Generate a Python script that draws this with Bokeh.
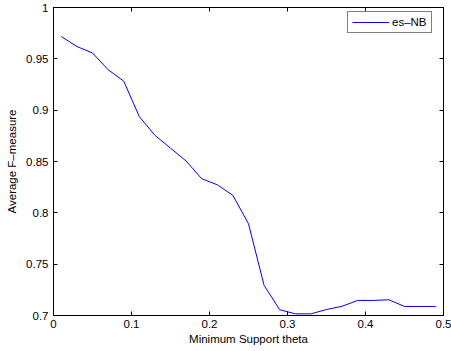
from bokeh.plotting import figure
from bokeh.models import LinearAxis, Range1d, FixedTicker, Legend, LegendItem
from bokeh.embed import file_html
from bokeh.resources import INLINE

theta = [0.01, 0.03, 0.05, 0.07, 0.09, 0.11, 0.13, 0.15, 0.17, 0.19, 0.21, 0.23, 0.25,
         0.27, 0.29, 0.31, 0.33, 0.35, 0.37, 0.39, 0.41, 0.43, 0.45, 0.47, 0.49]
fmeasure = [0.9717, 0.962, 0.9557, 0.9394, 0.9283, 0.8938, 0.8755, 0.863, 0.8505, 0.8332,
            0.8273, 0.817, 0.7893, 0.7293, 0.7056, 0.7016, 0.7016, 0.7058, 0.709, 0.7147,
            0.7147, 0.7153, 0.7088, 0.7088, 0.7088]
series_name = "es\u2013NB"
x_ticks = [0, 0.1, 0.2, 0.3, 0.4, 0.5]
x_tick_labels = ["0", "0.1", "0.2", "0.3", "0.4", "0.5"]
y_ticks = [0.7, 0.75, 0.8, 0.85, 0.9, 0.95, 1.0]
y_tick_labels = ["0.7", "0.75", "0.8", "0.85", "0.9", "0.95", "1"]
x_label = "Minimum Support theta"
y_label = "Average F\u2013measure"

FONT = "Liberation Sans"
FS = "11.5px"

p = figure(width=451, height=351, output_backend="svg", toolbar_location=None,
           x_range=Range1d(0, 0.5), y_range=Range1d(0.7, 1.0),
           x_axis_location=None, y_axis_location=None,
           min_border_left=53, min_border_right=8, min_border_top=7, min_border_bottom=36)
p.background_fill_color = "white"
p.border_fill_color = "white"
p.outline_line_color = "black"
p.outline_line_width = 1
p.xgrid.visible = False
p.ygrid.visible = False


def style_axis(ax, ticks, labels, show_labels=True):
    ax.ticker = FixedTicker(ticks=ticks)
    ax.major_label_overrides = {t: l for t, l in zip(ticks, labels)}
    ax.major_tick_in = 4
    ax.major_tick_out = 0
    ax.minor_tick_line_color = None
    ax.axis_line_color = "black"
    ax.major_tick_line_color = "black"
    ax.major_label_text_font = FONT
    ax.major_label_text_color = "black"
    ax.axis_label_text_font = FONT
    ax.axis_label_text_font_style = "normal"
    ax.axis_label_text_color = "black"
    ax.axis_label_text_font_size = FS
    if show_labels:
        ax.major_label_text_font_size = FS
    else:
        ax.major_label_text_font_size = "0px"
        ax.major_label_standoff = 0
        ax.major_label_text_alpha = 0


xb = LinearAxis(axis_label=x_label)
style_axis(xb, x_ticks, x_tick_labels)
xb.major_label_standoff = 4
xb.axis_label_standoff = 2
p.add_layout(xb, "below")

yl = LinearAxis(axis_label=y_label)
style_axis(yl, y_ticks, y_tick_labels)
yl.major_label_standoff = 5
yl.axis_label_standoff = 5
p.add_layout(yl, "left")

xt = LinearAxis()
style_axis(xt, x_ticks, x_tick_labels, show_labels=False)
p.add_layout(xt, "above")

yr = LinearAxis()
style_axis(yr, y_ticks, y_tick_labels, show_labels=False)
p.add_layout(yr, "right")

r = p.line(theta, fmeasure, line_color="#0000ff", line_width=1)

legend = Legend(items=[LegendItem(label=series_name, renderers=[r])],
                location=(294, 282), margin=0, padding=4, spacing=0,
                glyph_width=37, glyph_height=12, label_standoff=3, label_height=12,
                label_text_font=FONT, label_text_font_size=FS, label_text_color="black",
                border_line_color="black", border_line_width=1,
                background_fill_color="white", background_fill_alpha=1)
p.add_layout(legend, "center")

open("out.html", "w").write(file_html(p, INLINE))
